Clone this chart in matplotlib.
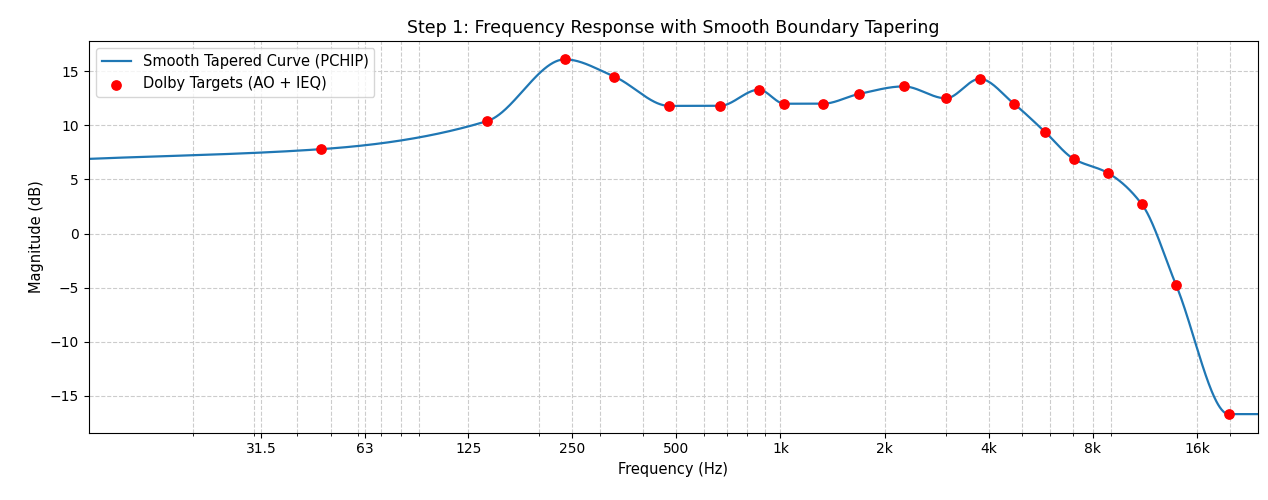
import numpy as np
from matplotlib import pyplot as plt
from matplotlib.ticker import FixedLocator, FixedFormatter, LogLocator, NullFormatter

# Dolby target points
freqs = [47, 142, 238, 331, 477, 667, 866, 1027, 1324, 1686, 2270, 3008,
         3766, 4730, 5818, 7040, 8840, 11090, 13940, 19770]
gains = [7.8, 10.4, 16.1, 14.5, 11.8, 11.8, 13.3, 12.0, 12.0, 12.9, 13.6, 12.5,
         14.3, 12.0, 9.4, 6.9, 5.6, 2.7, -4.8, -16.7]

# boundary taper anchors
edge_freqs = [10, 24000]
edge_gains = [6.9, -16.7]

tick_vals = [31.5, 63, 125, 250, 500, 1000, 2000, 4000, 8000, 16000]
tick_labels = ['31.5', '63', '125', '250', '500', '1k', '2k', '4k', '8k', '16k']


def pchip(x, y, xq):
    # plain monotone cubic (Fritsch-Carlson) interpolation
    x = np.asarray(x, float)
    y = np.asarray(y, float)
    h = np.diff(x)
    d = np.diff(y) / h
    n = len(x)
    m = np.zeros(n)
    for k in range(1, n - 1):
        if d[k - 1] * d[k] > 0:
            w1 = 2 * h[k] + h[k - 1]
            w2 = h[k] + 2 * h[k - 1]
            m[k] = (w1 + w2) / (w1 / d[k - 1] + w2 / d[k])
    m[0] = d[0]
    m[-1] = 0.0
    idx = np.clip(np.searchsorted(x, xq) - 1, 0, n - 2)
    t = (xq - x[idx]) / h[idx]
    h00 = 2 * t**3 - 3 * t**2 + 1
    h10 = t**3 - 2 * t**2 + t
    h01 = -2 * t**3 + 3 * t**2
    h11 = t**3 - t**2
    return h00 * y[idx] + h10 * h[idx] * m[idx] + h01 * y[idx + 1] + h11 * h[idx] * m[idx + 1]


all_f = [edge_freqs[0]] + freqs + [edge_freqs[1]]
all_g = [edge_gains[0]] + gains + [edge_gains[1]]
fq = np.logspace(np.log10(10), np.log10(24000), 2000)
curve = pchip(np.log10(all_f), all_g, np.log10(fq))

fig, ax = plt.subplots(figsize=(12.68, 5), dpi=100)
ax.plot(fq, curve, color='#1f77b4', lw=1.6, label='Smooth Tapered Curve (PCHIP)')
ax.scatter(freqs, gains, color='red', s=45, zorder=3, label='Dolby Targets (AO + IEQ)')

ax.set_xscale('log')
ax.set_xlim(10, 24000)
ax.set_ylim(-18.4, 17.8)
ax.xaxis.set_major_locator(FixedLocator(tick_vals))
ax.xaxis.set_major_formatter(FixedFormatter(tick_labels))
ax.xaxis.set_minor_locator(LogLocator(base=10, subs=np.arange(2, 10)))
ax.xaxis.set_minor_formatter(NullFormatter())
ax.grid(True, which='both', ls='--', color='#cccccc', lw=0.8)

ax.set_title('Step 1: Frequency Response with Smooth Boundary Tapering', fontsize=12.5)
ax.set_xlabel('Frequency (Hz)', fontsize=10.5)
ax.set_ylabel('Magnitude (dB)', fontsize=10.5)
ax.legend(loc='upper left', fontsize=10.5)
fig.subplots_adjust(left=0.07, right=0.992, top=0.918, bottom=0.135)
fig.savefig('out.png')
